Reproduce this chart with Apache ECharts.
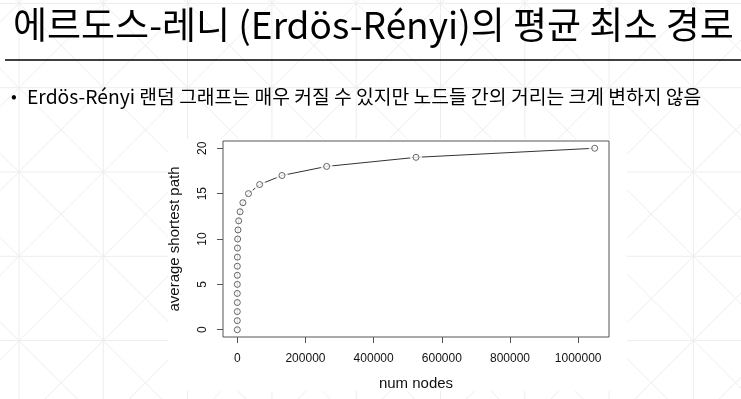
<!DOCTYPE html>
<html>
<head>
<meta charset="utf-8">
<script src="https://cdn.jsdelivr.net/npm/echarts@6/dist/echarts.min.js"></script>
<style>
html,body{margin:0;padding:0;background:#fff;}
#chart{width:741px;height:399px;}
</style>
</head>
<body>
<div id="chart"></div>
<script>
// ---- data ----
const titleText = '에르도스-레니 (Erdös-Rényi)의 평균 최소 경로';
const bulletText = 'Erdös-Rényi 랜덤 그래프는 매우 커질 수 있지만 노드들 간의 거리는 크게 변하지 않음';
const nodeCounts = [1, 2, 4, 8, 16, 32, 64, 128, 256, 512, 1024, 2048, 4096, 8192, 16384, 32768, 65536, 131072, 262144, 524288, 1048576];
const avgShortestPath = [0, 1, 2, 3, 4, 5, 6, 7, 8, 9, 10, 11, 12, 13, 14, 15, 16, 17, 18, 19, 20];
const xTicks = [0, 200000, 400000, 600000, 800000, 1000000];
const yTicks = [0, 5, 10, 15, 20];
const xName = 'num nodes';
const yName = 'average shortest path';

const points = nodeCounts.map((n, i) => [n, avgShortestPath[i]]);

// ---- decorative slide background pattern ----
const W = 741, H = 399, S = 84.3, X0 = 19, Y0 = 172;
const pattern = [];
const lc = '#ededed';
for (let x = X0 - S * 2; x < W + S; x += S) {
  pattern.push({type: 'line', z: -20, silent: true, shape: {x1: x, y1: 0, x2: x, y2: H}, style: {stroke: lc, lineWidth: 1}});
}
for (let y = Y0 - S * 3; y < H + S; y += S) {
  pattern.push({type: 'line', z: -20, silent: true, shape: {x1: 0, y1: y, x2: W, y2: y}, style: {stroke: lc, lineWidth: 1}});
}
for (let k = -12; k < 20; k++) {
  const c = (X0 - Y0) + k * S; // x - y = c
  pattern.push({type: 'line', z: -20, silent: true, shape: {x1: c, y1: 0, x2: c + 1000, y2: 1000}, style: {stroke: lc, lineWidth: 1}});
  const d = (X0 + Y0) + k * S; // x + y = d
  pattern.push({type: 'line', z: -20, silent: true, shape: {x1: d, y1: 0, x2: d - 1000, y2: 1000}, style: {stroke: lc, lineWidth: 1}});
}

const chart = echarts.init(document.getElementById('chart'), null, {renderer: 'canvas'});
const axisColor = '#555';
const labelFont = {fontFamily: 'Liberation Sans, Arial, sans-serif', fontSize: 12, color: '#111'};

chart.setOption({
  animation: false,
  backgroundColor: '#fff',
  graphic: pattern.concat([
    {type: 'rect', z: -10, silent: true, shape: {x: 168, y: 139, width: 459, height: 252}, style: {fill: '#fff'}},
    {type: 'text', z: 10, x: 13, y: 25, style: {text: titleText, fontFamily: '"Noto Sans CJK KR", sans-serif', fontSize: 37, fill: '#000', verticalAlign: 'middle'}},
    {type: 'line', z: 10, shape: {x1: 5, y1: 60, x2: 741, y2: 60}, style: {stroke: '#000', lineWidth: 1.6}},
    {type: 'text', z: 10, x: 11, y: 96, style: {text: '•', fontFamily: '"Noto Sans CJK KR", sans-serif', fontSize: 17, fill: '#000', verticalAlign: 'middle'}},
    {type: 'text', z: 10, x: 27, y: 97, style: {text: bulletText, fontFamily: '"Noto Sans CJK KR", sans-serif', fontSize: 19.3, fill: '#000', verticalAlign: 'middle'}}
  ]),
  grid: {left: 223, top: 141, width: 386, height: 196, show: true, borderColor: axisColor, borderWidth: 1, backgroundColor: 'transparent', containLabel: false, outerBoundsMode: 'none'},
  xAxis: {
    type: 'value', min: -41942, max: 1090519,
    splitLine: {show: false},
    axisLine: {show: false, onZero: false},
    axisTick: {show: true, length: 6, lineStyle: {color: axisColor}, customValues: xTicks},
    axisLabel: Object.assign({margin: 16, customValues: xTicks, formatter: v => String(v)}, labelFont),
    name: xName, nameLocation: 'middle', nameGap: 39,
    nameTextStyle: {fontFamily: 'Liberation Sans, Arial, sans-serif', fontSize: 15, color: '#111'}
  },
  yAxis: {
    type: 'value', min: -0.8, max: 20.8,
    splitLine: {show: false},
    axisLine: {show: false, onZero: false},
    axisTick: {show: true, length: 6, lineStyle: {color: axisColor}, customValues: yTicks},
    axisLabel: Object.assign({margin: 14, rotate: 90, customValues: yTicks, formatter: v => String(v)}, labelFont),
    name: yName, nameLocation: 'middle', nameGap: 41,
    nameTextStyle: {fontFamily: 'Liberation Sans, Arial, sans-serif', fontSize: 15, color: '#111'}
  },
  series: [
    {type: 'line', data: points, showSymbol: false, symbol: 'none', lineStyle: {color: '#333', width: 1}, z: 2},
    {type: 'scatter', data: points, symbol: 'circle', symbolSize: 12, itemStyle: {color: '#fff'}, z: 3, silent: true},
    {type: 'scatter', data: points, symbol: 'circle', symbolSize: 6, itemStyle: {color: 'rgba(255,255,255,0)', borderColor: '#444', borderWidth: 1}, z: 4}
  ]
});
</script>
</body>
</html>
